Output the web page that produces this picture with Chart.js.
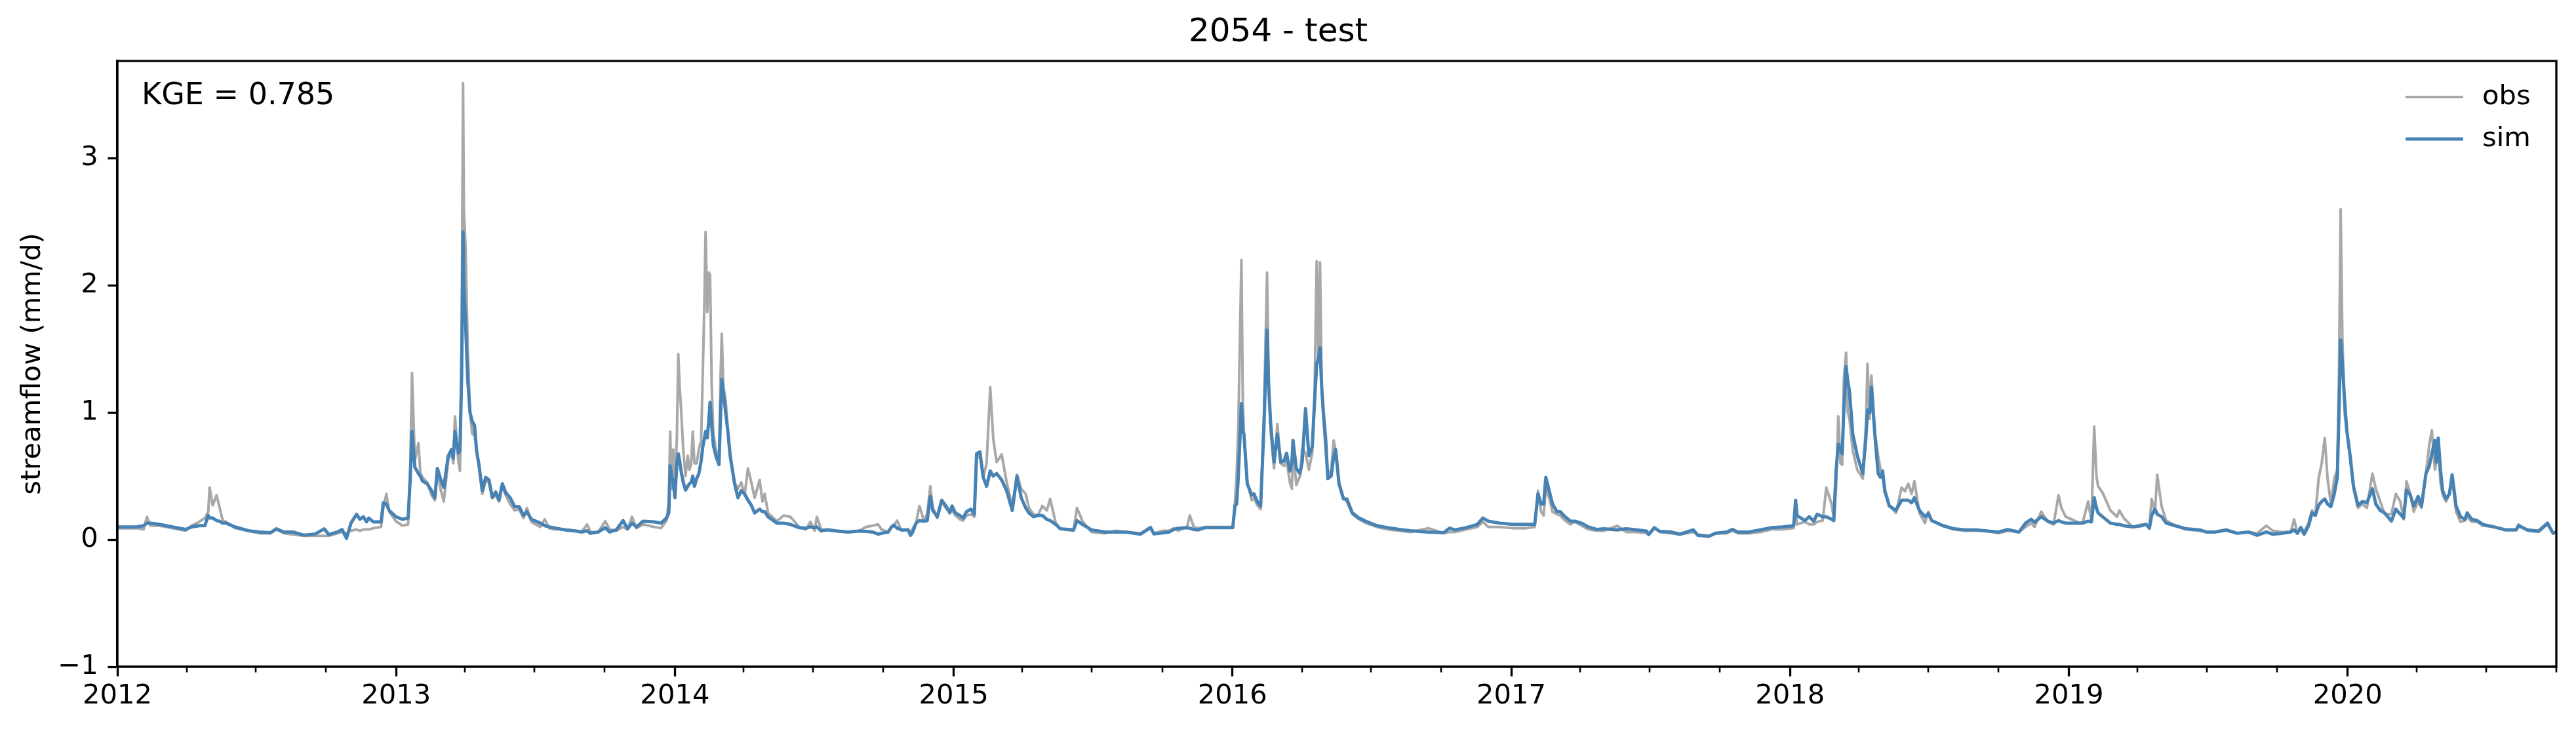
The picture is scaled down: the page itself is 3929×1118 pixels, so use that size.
<!DOCTYPE html>
<html>
<head>
<meta charset="utf-8">
<script src="https://cdn.jsdelivr.net/npm/chart.js@4.4.1/dist/chart.umd.min.js"></script>
<style>
html,body{margin:0;padding:0;background:#fff;}
canvas{display:block;}
</style>
</head>
<body>
<canvas id="c" width="3929" height="1118" style="width:3929px;height:1118px"></canvas>
<script>
// ---- data (time in decimal years, streamflow in mm/d) ----
const chartTitle = '2054 - test';
const kgeText = 'KGE = 0.785';
const seriesNames = ['obs', 'sim'];
const yearTicks = [2012, 2013, 2014, 2015, 2016, 2017, 2018, 2019, 2020];
const yTicks = [-1, 0, 1, 2, 3];

const t = [
2012.000,2012.038,2012.070,2012.094,2012.106,2012.118,2012.150,2012.198,2012.245,2012.266,
2012.294,2012.314,2012.326,2012.331,2012.342,2012.356,2012.366,2012.378,2012.390,2012.422,
2012.470,2012.510,2012.550,2012.570,2012.598,2012.630,2012.670,2012.710,2012.742,2012.758,
2012.790,2012.806,2012.822,2012.838,2012.858,2012.870,2012.882,2012.894,2012.902,2012.918,
2012.946,2012.954,2012.965,2012.975,2012.999,2013.023,2013.043,2013.051,2013.057,2013.067,
2013.080,2013.087,2013.095,2013.111,2013.127,2013.139,2013.148,2013.159,2013.171,2013.187,
2013.199,2013.205,2013.211,2013.223,2013.229,2013.235,2013.240,2013.243,2013.249,2013.257,
2013.265,2013.273,2013.281,2013.289,2013.297,2013.309,2013.321,2013.333,2013.345,2013.357,
2013.369,2013.381,2013.393,2013.409,2013.425,2013.441,2013.457,2013.469,2013.485,2013.517,
2013.533,2013.549,2013.565,2013.605,2013.645,2013.665,2013.685,2013.697,2013.725,2013.750,
2013.766,2013.790,2013.814,2013.830,2013.846,2013.862,2013.886,2013.926,2013.950,2013.970,
2013.978,2013.983,2013.988,2013.994,2014.000,2014.007,2014.012,2014.017,2014.022,2014.030,
2014.038,2014.046,2014.052,2014.058,2014.064,2014.070,2014.078,2014.086,2014.094,2014.100,
2014.106,2014.110,2014.116,2014.122,2014.126,2014.132,2014.138,2014.148,2014.158,2014.164,
2014.168,2014.174,2014.182,2014.190,2014.198,2014.206,2014.214,2014.226,2014.238,2014.250,
2014.262,2014.274,2014.286,2014.304,2014.314,2014.322,2014.334,2014.366,2014.390,2014.414,
2014.446,2014.470,2014.486,2014.501,2014.509,2014.525,2014.549,2014.581,2014.621,2014.661,
2014.685,2014.709,2014.729,2014.741,2014.765,2014.777,2014.785,2014.797,2014.813,2014.837,
2014.845,2014.853,2014.865,2014.877,2014.893,2014.905,2014.916,2014.925,2014.941,2014.957,
2014.974,2014.986,2014.994,2015.006,2015.022,2015.034,2015.046,2015.062,2015.074,2015.082,
2015.094,2015.106,2015.118,2015.131,2015.142,2015.154,2015.172,2015.190,2015.210,2015.227,
2015.242,2015.258,2015.270,2015.286,2015.302,2015.318,2015.334,2015.346,2015.366,2015.382,
2015.430,2015.442,2015.462,2015.494,2015.542,2015.582,2015.622,2015.670,2015.706,2015.718,
2015.750,2015.773,2015.789,2015.805,2015.837,2015.847,2015.861,2015.877,2015.901,2015.957,
2016.001,2016.009,2016.015,2016.021,2016.032,2016.037,2016.041,2016.053,2016.069,2016.077,
2016.089,2016.101,2016.113,2016.124,2016.130,2016.137,2016.149,2016.161,2016.173,2016.185,
2016.194,2016.206,2016.213,2016.217,2016.229,2016.242,2016.250,2016.262,2016.274,2016.286,
2016.294,2016.302,2016.308,2016.314,2016.320,2016.326,2016.334,2016.342,2016.354,2016.363,
2016.370,2016.382,2016.398,2016.410,2016.430,2016.454,2016.478,2016.518,2016.558,2016.598,
2016.638,2016.702,2016.758,2016.778,2016.798,2016.838,2016.878,2016.898,2016.918,2016.958,
2017.006,2017.052,2017.084,2017.096,2017.107,2017.116,2017.124,2017.136,2017.148,2017.164,
2017.176,2017.188,2017.212,2017.228,2017.252,2017.276,2017.308,2017.332,2017.380,2017.412,
2017.452,2017.485,2017.493,2017.513,2017.533,2017.573,2017.605,2017.653,2017.669,2017.709,
2017.733,2017.773,2017.793,2017.813,2017.853,2017.893,2017.933,2017.973,2018.013,2018.020,
2018.025,2018.053,2018.069,2018.085,2018.097,2018.117,2018.130,2018.149,2018.157,2018.165,
2018.173,2018.181,2018.187,2018.193,2018.201,2018.207,2018.213,2018.225,2018.241,2018.261,
2018.272,2018.278,2018.286,2018.292,2018.304,2018.316,2018.324,2018.332,2018.340,2018.356,
2018.380,2018.400,2018.412,2018.424,2018.436,2018.446,2018.464,2018.484,2018.496,2018.508,
2018.548,2018.588,2018.628,2018.668,2018.708,2018.748,2018.781,2018.821,2018.845,2018.865,
2018.877,2018.901,2018.925,2018.945,2018.963,2018.973,2018.989,2019.029,2019.049,2019.069,
2019.081,2019.091,2019.099,2019.105,2019.121,2019.149,2019.173,2019.181,2019.197,2019.229,
2019.261,2019.277,2019.289,2019.297,2019.309,2019.317,2019.333,2019.349,2019.381,2019.421,
2019.469,2019.493,2019.524,2019.564,2019.604,2019.644,2019.676,2019.708,2019.732,2019.764,
2019.796,2019.808,2019.820,2019.832,2019.844,2019.860,2019.872,2019.884,2019.896,2019.907,
2019.918,2019.928,2019.940,2019.952,2019.963,2019.969,2019.975,2019.981,2019.989,2019.997,
2020.009,2020.021,2020.037,2020.053,2020.069,2020.089,2020.101,2020.117,2020.133,2020.157,
2020.173,2020.189,2020.201,2020.211,2020.225,2020.237,2020.253,2020.265,2020.281,2020.293,
2020.302,2020.313,2020.318,2020.325,2020.333,2020.341,2020.353,2020.365,2020.375,2020.389,
2020.405,2020.421,2020.429,2020.445,2020.465,2020.485,2020.525,2020.565,2020.605,2020.613,
2020.645,2020.685,2020.717,2020.737,2020.748
];

const obs = [
0.09,0.09,0.09,0.08,0.18,0.11,0.11,0.09,0.07,0.11,
0.14,0.17,0.22,0.41,0.27,0.35,0.26,0.15,0.14,0.09,
0.07,0.05,0.05,0.08,0.05,0.04,0.03,0.03,0.03,0.03,
0.05,0.06,0.05,0.07,0.08,0.07,0.08,0.08,0.08,0.09,
0.10,0.25,0.36,0.22,0.145,0.11,0.12,0.60,1.31,0.62,
0.76,0.52,0.49,0.45,0.35,0.31,0.55,0.40,0.30,0.63,
0.69,0.60,0.97,0.62,0.54,1.60,3.59,2.60,2.30,1.50,
1.00,0.83,0.83,0.70,0.58,0.36,0.46,0.45,0.33,0.35,
0.30,0.42,0.35,0.28,0.23,0.24,0.17,0.25,0.14,0.10,
0.16,0.09,0.08,0.08,0.07,0.06,0.12,0.06,0.06,0.145,
0.08,0.07,0.10,0.08,0.18,0.09,0.12,0.10,0.09,0.15,
0.30,0.85,0.40,0.71,0.40,0.80,1.46,1.20,1.03,0.70,
0.50,0.66,0.55,0.59,0.85,0.60,0.60,0.71,0.78,1.31,
1.90,2.42,1.79,2.10,2.08,1.20,0.83,0.70,0.60,1.30,
1.62,1.20,1.10,0.85,0.69,0.56,0.45,0.40,0.45,0.35,
0.56,0.45,0.33,0.47,0.30,0.36,0.21,0.145,0.19,0.18,
0.10,0.08,0.14,0.07,0.18,0.08,0.08,0.07,0.06,0.07,
0.10,0.11,0.12,0.08,0.06,0.10,0.11,0.15,0.07,0.08,
0.05,0.09,0.13,0.265,0.15,0.20,0.42,0.25,0.17,0.30,
0.24,0.22,0.23,0.19,0.16,0.15,0.19,0.20,0.18,0.63,
0.67,0.49,0.60,1.20,0.79,0.61,0.67,0.45,0.26,0.51,
0.40,0.36,0.25,0.20,0.19,0.265,0.23,0.32,0.13,0.085,
0.07,0.25,0.145,0.06,0.05,0.07,0.06,0.05,0.10,0.05,
0.07,0.07,0.09,0.07,0.10,0.19,0.10,0.09,0.10,0.10,
0.10,0.30,0.52,0.90,2.20,1.10,0.85,0.45,0.31,0.33,
0.27,0.24,1.00,2.10,1.20,0.85,0.56,0.91,0.60,0.58,
0.62,0.45,0.40,0.72,0.43,0.50,0.72,0.68,0.55,0.68,
1.10,2.19,1.46,2.18,1.20,0.95,0.70,0.50,0.55,0.78,
0.70,0.45,0.33,0.30,0.20,0.16,0.13,0.10,0.08,0.07,
0.06,0.09,0.05,0.06,0.06,0.08,0.10,0.14,0.10,0.10,
0.09,0.09,0.10,0.385,0.22,0.19,0.40,0.33,0.22,0.20,
0.19,0.16,0.12,0.14,0.11,0.08,0.07,0.07,0.11,0.06,
0.06,0.05,0.04,0.09,0.06,0.05,0.04,0.06,0.04,0.03,
0.05,0.05,0.07,0.05,0.05,0.06,0.08,0.08,0.09,0.25,
0.12,0.14,0.12,0.12,0.14,0.15,0.41,0.28,0.17,0.40,
0.97,0.60,0.59,1.27,1.47,1.00,0.95,0.70,0.55,0.48,
0.90,1.385,0.95,1.29,0.85,0.66,0.56,0.50,0.37,0.27,
0.21,0.41,0.38,0.44,0.36,0.46,0.21,0.13,0.22,0.15,
0.11,0.08,0.07,0.07,0.07,0.05,0.07,0.06,0.10,0.13,
0.10,0.22,0.14,0.12,0.35,0.25,0.18,0.14,0.13,0.30,
0.15,0.89,0.50,0.42,0.37,0.23,0.18,0.23,0.17,0.10,
0.12,0.12,0.11,0.32,0.22,0.51,0.26,0.15,0.11,0.08,
0.07,0.06,0.06,0.07,0.05,0.06,0.05,0.11,0.07,0.06,
0.06,0.16,0.05,0.10,0.06,0.13,0.23,0.19,0.48,0.60,
0.80,0.48,0.28,0.48,0.55,1.30,2.60,1.60,1.00,0.85,
0.64,0.40,0.25,0.28,0.25,0.52,0.40,0.30,0.20,0.20,
0.36,0.30,0.16,0.46,0.36,0.22,0.30,0.25,0.52,0.75,
0.86,0.55,0.60,0.75,0.45,0.35,0.30,0.36,0.48,0.22,
0.14,0.15,0.18,0.14,0.14,0.11,0.10,0.08,0.08,0.12,
0.07,0.06,0.12,0.05,0.06
];

const sim = [
0.10,0.10,0.10,0.11,0.13,0.13,0.12,0.10,0.08,0.10,
0.11,0.11,0.19,0.17,0.17,0.15,0.145,0.13,0.13,0.10,
0.07,0.06,0.055,0.085,0.06,0.06,0.035,0.045,0.085,0.04,
0.06,0.08,0.01,0.13,0.20,0.16,0.18,0.14,0.17,0.14,
0.14,0.29,0.28,0.23,0.18,0.16,0.17,0.50,0.85,0.57,
0.52,0.50,0.46,0.44,0.385,0.33,0.56,0.48,0.41,0.66,
0.71,0.64,0.85,0.68,0.70,1.30,2.42,2.00,1.70,1.25,
1.00,0.93,0.90,0.69,0.59,0.385,0.49,0.47,0.33,0.375,
0.31,0.44,0.37,0.33,0.26,0.26,0.19,0.22,0.16,0.13,
0.11,0.10,0.094,0.077,0.068,0.06,0.07,0.05,0.06,0.094,
0.06,0.077,0.15,0.085,0.13,0.10,0.145,0.14,0.13,0.17,
0.21,0.58,0.50,0.45,0.33,0.60,0.675,0.62,0.54,0.45,
0.39,0.42,0.44,0.45,0.50,0.42,0.48,0.52,0.62,0.73,
0.80,0.85,0.80,0.95,1.08,0.90,0.74,0.65,0.59,1.00,
1.26,1.15,1.00,0.85,0.66,0.55,0.44,0.33,0.385,0.36,
0.31,0.27,0.21,0.24,0.22,0.22,0.18,0.13,0.13,0.12,
0.094,0.09,0.10,0.094,0.10,0.068,0.077,0.068,0.06,0.068,
0.065,0.06,0.043,0.05,0.06,0.10,0.115,0.09,0.077,0.077,
0.034,0.06,0.13,0.15,0.145,0.15,0.34,0.23,0.18,0.31,
0.26,0.21,0.265,0.21,0.19,0.17,0.22,0.24,0.20,0.675,
0.69,0.49,0.42,0.54,0.50,0.52,0.47,0.385,0.23,0.50,
0.33,0.25,0.21,0.18,0.19,0.19,0.16,0.15,0.12,0.085,
0.077,0.15,0.12,0.077,0.06,0.06,0.058,0.043,0.094,0.045,
0.053,0.06,0.08,0.09,0.094,0.09,0.08,0.077,0.094,0.094,
0.094,0.265,0.28,0.50,1.07,0.85,0.83,0.44,0.35,0.36,
0.30,0.265,0.90,1.65,1.20,0.91,0.61,0.83,0.61,0.62,
0.68,0.54,0.60,0.78,0.56,0.52,0.61,1.03,0.66,0.73,
1.07,1.38,1.42,1.51,1.20,1.00,0.80,0.48,0.50,0.65,
0.71,0.44,0.32,0.32,0.21,0.17,0.145,0.11,0.094,0.08,
0.07,0.06,0.055,0.09,0.077,0.094,0.12,0.17,0.145,0.13,
0.12,0.12,0.12,0.36,0.28,0.28,0.49,0.385,0.28,0.22,
0.22,0.19,0.145,0.145,0.13,0.10,0.08,0.085,0.077,0.085,
0.077,0.068,0.04,0.094,0.065,0.06,0.043,0.077,0.034,0.026,
0.051,0.06,0.08,0.06,0.06,0.077,0.094,0.10,0.11,0.31,
0.19,0.15,0.18,0.145,0.20,0.18,0.18,0.16,0.15,0.54,
0.75,0.70,0.675,1.02,1.36,1.25,1.17,0.83,0.66,0.52,
0.80,1.02,1.00,1.20,0.83,0.52,0.49,0.54,0.385,0.265,
0.23,0.31,0.31,0.31,0.29,0.33,0.23,0.18,0.205,0.15,
0.11,0.085,0.077,0.077,0.068,0.06,0.08,0.06,0.13,0.16,
0.137,0.18,0.145,0.13,0.15,0.14,0.13,0.13,0.13,0.145,
0.14,0.33,0.25,0.21,0.18,0.13,0.12,0.12,0.11,0.10,
0.11,0.12,0.09,0.19,0.24,0.20,0.18,0.13,0.11,0.085,
0.077,0.06,0.06,0.077,0.05,0.06,0.034,0.06,0.043,0.05,
0.06,0.077,0.05,0.094,0.043,0.11,0.21,0.19,0.27,0.30,
0.32,0.28,0.26,0.36,0.49,1.00,1.57,1.40,1.10,0.86,
0.66,0.42,0.27,0.30,0.29,0.40,0.28,0.23,0.21,0.145,
0.24,0.20,0.17,0.39,0.35,0.265,0.34,0.265,0.52,0.58,
0.675,0.78,0.61,0.80,0.55,0.385,0.32,0.36,0.51,0.265,
0.18,0.16,0.21,0.16,0.15,0.12,0.10,0.077,0.077,0.11,
0.077,0.068,0.13,0.05,0.06
];

// ---- chart ----
const xMin = yearTicks[0];
const xMax = 2020 + 274 / 366;
const FONT = "'DejaVu Sans', 'Liberation Sans', sans-serif";
const OBS_COLOR = '#a8a8a8';
const SIM_COLOR = '#4682b4';

function yearFrac(y, m) {
  const a = Date.UTC(y, 0, 1), b = Date.UTC(y + 1, 0, 1);
  return y + (Date.UTC(y, m, 1) - a) / (b - a);
}
const minorTicks = [];
for (let y = 2012; y <= 2020; y++) {
  for (const m of [3, 6, 9]) minorTicks.push(yearFrac(y, m));
}

const extras = {
  id: 'extras',
  afterDraw(chart) {
    const ctx = chart.ctx;
    const a = chart.chartArea;
    ctx.save();
    // frame
    ctx.strokeStyle = '#000';
    ctx.lineWidth = 3.3;
    ctx.strokeRect(a.left, a.top, a.right - a.left, a.bottom - a.top);
    // minor ticks
    const xs = chart.scales.x;
    ctx.beginPath();
    for (const v of minorTicks) {
      if (v > xMax + 1e-6) continue;
      const px = Math.round(xs.getPixelForValue(Math.min(v, xMax)));
      ctx.moveTo(px, a.bottom);
      ctx.lineTo(px, a.bottom + 8.5);
    }
    ctx.lineWidth = 2.6;
    ctx.stroke();
    // KGE annotation
    ctx.fillStyle = '#000';
    ctx.font = '46px ' + FONT;
    ctx.textAlign = 'left';
    ctx.textBaseline = 'middle';
    ctx.fillText(kgeText, a.left + 37, a.top + 54);
    // legend
    ctx.font = '41.7px ' + FONT;
    const items = [[seriesNames[0], OBS_COLOR, 4, 148], [seriesNames[1], SIM_COLOR, 5, 212]];
    for (const [label, col, lw, y] of items) {
      ctx.beginPath();
      ctx.strokeStyle = col;
      ctx.lineWidth = lw;
      ctx.moveTo(a.right - 230, y);
      ctx.lineTo(a.right - 142, y);
      ctx.stroke();
      ctx.fillText(label, a.right - 113, y);
    }
    ctx.restore();
  }
};

new Chart(document.getElementById('c'), {
  type: 'line',
  data: {
    datasets: [
      {
        label: seriesNames[0],
        data: t.map((x, i) => ({x: x, y: obs[i]})),
        borderColor: OBS_COLOR,
        borderWidth: 4,
        pointRadius: 0,
        tension: 0,
        fill: false,
        borderJoinStyle: 'round',
        order: 2
      },
      {
        label: seriesNames[1],
        data: t.map((x, i) => ({x: x, y: sim[i]})),
        borderColor: SIM_COLOR,
        borderWidth: 5,
        pointRadius: 0,
        tension: 0,
        fill: false,
        borderJoinStyle: 'round',
        order: 1
      }
    ]
  },
  options: {
    responsive: false,
    animation: false,
    devicePixelRatio: 1,
    parsing: true,
    layout: {padding: {left: 0, right: 30, top: 0, bottom: 0}},
    plugins: {
      legend: {display: false},
      tooltip: {enabled: false},
      title: {
        display: true,
        text: chartTitle,
        color: '#000',
        font: {family: FONT, size: 50, weight: 'normal', lineHeight: 1.2},
        padding: {top: 20, bottom: 13}
      }
    },
    scales: {
      x: {
        type: 'linear',
        min: xMin,
        max: xMax,
        afterBuildTicks: s => { s.ticks = yearTicks.map(v => ({value: v})); },
        afterFit: s => { s.height = 101; },
        ticks: {
          color: '#000',
          font: {family: FONT, size: 41.7},
          padding: 6,
          maxRotation: 0,
          autoSkip: false,
          callback: v => String(v)
        },
        grid: {drawOnChartArea: false, drawTicks: true, tickLength: 14.6, tickWidth: 3.3, tickColor: '#000'},
        border: {display: true, color: '#000', width: 3.3}
      },
      y: {
        type: 'linear',
        min: -1,
        max: 3.765,
        afterBuildTicks: s => { s.ticks = yTicks.map(v => ({value: v})); },
        afterFit: s => { s.width = 179; },
        ticks: {
          color: '#000',
          font: {family: FONT, size: 41.7},
          padding: 14.6,
          includeBounds: false,
          callback: v => (v < 0 ? '\u2212' + Math.abs(v) : String(v))
        },
        grid: {drawOnChartArea: false, drawTicks: true, tickLength: 14.6, tickWidth: 3.3, tickColor: '#000'},
        border: {display: true, color: '#000', width: 3.3},
        title: {
          display: true,
          text: 'streamflow (mm/d)',
          color: '#000',
          font: {family: FONT, size: 41.7, lineHeight: 1.2},
          padding: {top: 25, bottom: 0}
        }
      }
    }
  },
  plugins: [extras]
});
</script>
</body>
</html>
